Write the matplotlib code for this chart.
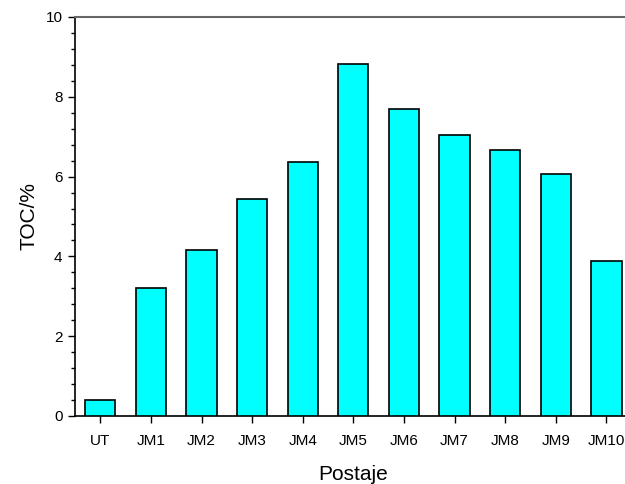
import numpy as np
import matplotlib
matplotlib.use('Agg')
import matplotlib.pyplot as plt
from matplotlib.ticker import MultipleLocator

plt.rcParams['font.family'] = ['Liberation Sans', 'DejaVu Sans']

# stations and total organic carbon (%)
stations = ['UT', 'JM1', 'JM2', 'JM3', 'JM4', 'JM5', 'JM6', 'JM7', 'JM8', 'JM9', 'JM10']
toc = [0.41, 3.21, 4.16, 5.45, 6.37, 8.81, 7.70, 7.03, 6.66, 6.07, 3.89]

fig = plt.figure(figsize=(6.25, 4.84), dpi=100)
ax = fig.add_axes([0.12, 0.1405, 0.8906, 0.8244])

x = np.arange(len(stations))
ax.bar(x, toc, width=0.6, color='#00ffff', edgecolor='black', linewidth=1.2, zorder=3)

ax.set_xlim(-0.5, 10.5)
ax.set_ylim(0, 10)
ax.set_xticks(x)
ax.set_xticklabels(stations)
ax.yaxis.set_major_locator(MultipleLocator(2))
ax.yaxis.set_minor_locator(MultipleLocator(0.4))

ax.tick_params(axis='x', direction='out', length=5, width=1, labelsize=11, pad=8)
ax.tick_params(axis='y', which='major', direction='out', length=5, width=1, labelsize=11, pad=4)
ax.tick_params(axis='y', which='minor', direction='out', length=3, width=1)

ax.spines['top'].set_color('#666666')
ax.spines['top'].set_linewidth(1.5)
ax.spines['right'].set_visible(False)
ax.spines['left'].set_linewidth(1.2)
ax.spines['bottom'].set_linewidth(1.2)

ax.set_ylabel('TOC/%', fontsize=15, labelpad=5)
ax.set_xlabel('Postaje', fontsize=15, labelpad=12)

fig.savefig('out.png', dpi=100)
